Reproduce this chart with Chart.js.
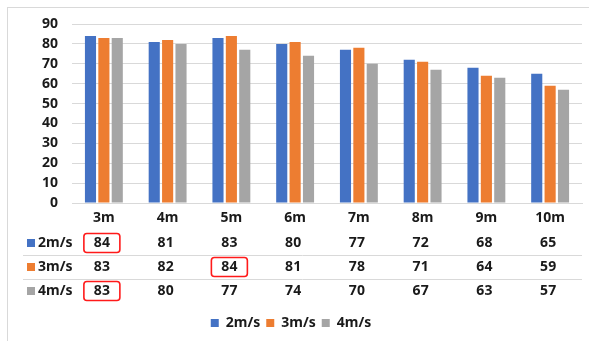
<!DOCTYPE html>
<html>
<head>
<meta charset="utf-8">
<script src="https://cdn.jsdelivr.net/npm/chart.js@4/dist/chart.umd.min.js"></script>
<style>
  html, body { margin: 0; padding: 0; background: #ffffff; }
  #wrap { width: 589px; height: 341px; position: relative; }
</style>
</head>
<body>
<div id="wrap"><canvas id="c" width="589" height="341"></canvas></div>
<script>
// Distances (m) along the x axis
const categories = ['3m', '4m', '5m', '6m', '7m', '8m', '9m', '10m'];
// Series names (wind speed)
const seriesNames = ['2m/s', '3m/s', '4m/s'];
// Values per series
const speed2 = [84, 81, 83, 80, 77, 72, 68, 65];
const speed3 = [83, 82, 84, 81, 78, 71, 64, 59];
const speed4 = [83, 80, 77, 74, 70, 67, 63, 57];
// Y axis tick labels
const yTicks = [0, 10, 20, 30, 40, 50, 60, 70, 80, 90];
// Highlighted table cells: [series index, category index]
const highlighted = [[0, 0], [1, 2], [2, 0]];

const colors = ['#4472C4', '#ED7D31', '#A5A5A5'];
const seriesValues = [speed2, speed3, speed4];
const FONT = '"Noto Sans", "DejaVu Sans", sans-serif';
const TEXT = '#1a1a1a';

// Data table drawn under the x axis, aligned with the category scale
const tablePlugin = {
  id: 'dataTable',
  beforeDraw(chart) {
    const ctx = chart.ctx;
    ctx.save();
    ctx.strokeStyle = '#d9d9d9';
    ctx.lineWidth = 1;
    ctx.strokeRect(7.5, 7.5, 640, 400);
    ctx.restore();
  },
  afterDraw(chart) {
    const ctx = chart.ctx;
    const x = chart.scales.x;
    const area = chart.chartArea;
    const rowY = [area.bottom + 40, area.bottom + 64, area.bottom + 88];
    ctx.save();
    // row separators
    ctx.strokeStyle = '#d9d9d9';
    ctx.lineWidth = 1;
    [rowY[0] + 11.5, rowY[1] + 11.5].forEach(y => {
      ctx.beginPath();
      ctx.moveTo(23, Math.round(y) + 0.5);
      ctx.lineTo(area.right, Math.round(y) + 0.5);
      ctx.stroke();
    });
    ctx.font = 'bold 14px ' + FONT;
    ctx.textBaseline = 'middle';
    seriesNames.forEach((name, s) => {
      const y = rowY[s];
      ctx.fillStyle = colors[s];
      ctx.fillRect(27, y - 4, 8, 8);
      ctx.fillStyle = TEXT;
      ctx.textAlign = 'left';
      ctx.fillText(name, 38, y);
      ctx.textAlign = 'center';
      seriesValues[s].forEach((v, i) => {
        ctx.fillText(String(v), x.getPixelForValue(i) - 2, y);
      });
    });
    // red rounded frames around highlighted cells
    ctx.strokeStyle = '#ff1a1a';
    ctx.lineWidth = 1.6;
    highlighted.forEach(([s, i]) => {
      const cx = x.getPixelForValue(i) - 2;
      const cy = rowY[s];
      ctx.beginPath();
      ctx.roundRect(cx - 18, cy - 9.5, 36, 19, 3);
      ctx.stroke();
    });
    ctx.restore();
  }
};

new Chart(document.getElementById('c'), {
  type: 'bar',
  data: {
    labels: categories,
    datasets: seriesNames.map((name, s) => ({
      label: name,
      data: seriesValues[s],
      backgroundColor: colors[s],
      borderWidth: 0,
      categoryPercentage: 0.63,
      barPercentage: 0.83
    }))
  },
  options: {
    responsive: false,
    animation: false,
    layout: { padding: { top: 24, right: 7, bottom: 1, left: 0 } },
    plugins: {
      legend: {
        position: 'bottom',
        labels: {
          boxWidth: 8,
          boxHeight: 8,
          padding: 6,
          color: TEXT,
          font: { family: FONT, size: 14, weight: 'bold' }
        }
      },
      tooltip: { enabled: false }
    },
    scales: {
      x: {
        grid: { display: false, drawTicks: false },
        border: { color: '#d9d9d9' },
        ticks: {
          padding: 7,
          color: TEXT,
          font: { family: FONT, size: 14, weight: 'bold' }
        },
        afterFit(scale) { scale.height = 107; }
      },
      y: {
        min: 0,
        max: 90,
        afterBuildTicks(scale) { scale.ticks = yTicks.map(v => ({ value: v })); },
        grid: { color: '#d9d9d9', drawTicks: false },
        border: { display: false },
        ticks: {
          padding: 14,
          color: TEXT,
          font: { family: FONT, size: 14, weight: 'bold' }
        },
        afterFit(scale) { scale.width = 72; }
      }
    }
  },
  plugins: [tablePlugin]
});
</script>
</body>
</html>
